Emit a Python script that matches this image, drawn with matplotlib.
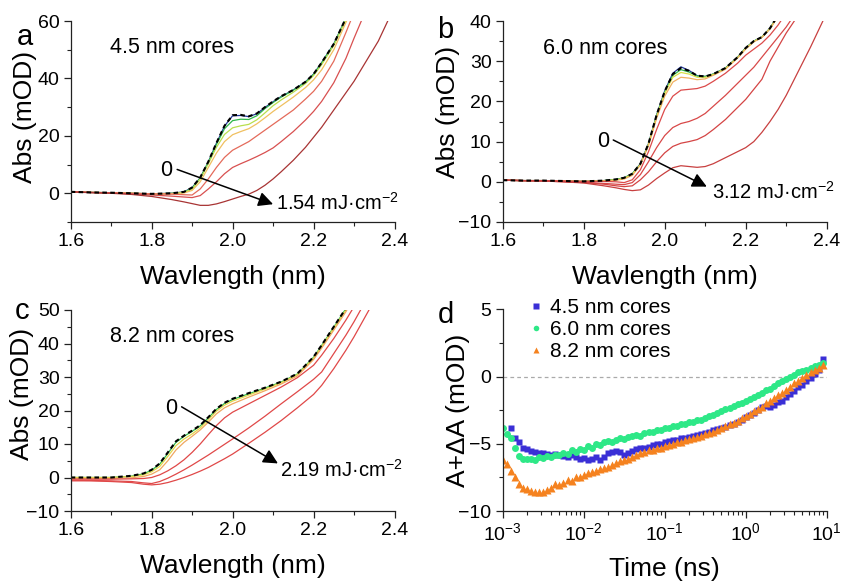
import numpy as np
import matplotlib
matplotlib.use("Agg")
import matplotlib.pyplot as plt
from matplotlib.ticker import MultipleLocator, LogLocator, NullFormatter

plt.rcParams['font.family'] = ['Liberation Sans', 'DejaVu Sans']
plt.rcParams['mathtext.fontset'] = 'custom'
plt.rcParams['mathtext.rm'] = 'Liberation Sans'
plt.rcParams['mathtext.it'] = 'Liberation Sans:italic'
plt.rcParams['mathtext.bf'] = 'Liberation Sans:bold'

# ---------------- Panel a (4.5 nm cores) ----------------
wl_a = [1.60, 1.65, 1.70, 1.75, 1.80, 1.85, 1.88, 1.90, 1.92, 1.94, 1.96, 1.98, 2.00, 2.02, 2.04,
        2.06, 2.08, 2.10, 2.12, 2.15, 2.18, 2.20, 2.22, 2.25, 2.28, 2.30, 2.33, 2.36, 2.40]
a_ref = [0.5, 0.3, 0.2, 0.0, -0.2, 0.0, 0.5, 2.0, 5.5, 11.0, 17.5, 23.5, 27.2, 27.3, 26.8,
         27.8, 30.0, 32.0, 33.8, 36.0, 38.8, 41.5, 45.5, 52.0, 61.0, 67.0, 76, 85, 97]
a_blue = [0.5, 0.3, 0.2, 0.0, -0.2, 0.0, 0.5, 2.0, 5.4, 10.9, 17.4, 23.4, 27.0, 27.1, 26.7,
          27.7, 29.9, 31.9, 33.7, 36.0, 38.8, 41.5, 45.5, 52.0, 61.0, 67.0, 76, 85, 97]
a_green = [0.5, 0.3, 0.2, 0.0, -0.2, 0.0, 0.4, 1.8, 5.3, 10.8, 17.0, 22.5, 25.3, 25.8, 25.7,
           27.0, 29.5, 31.6, 33.5, 35.9, 38.7, 41.4, 45.4, 51.9, 60.9, 67, 76, 85, 97]
a_ygreen = [0.5, 0.3, 0.2, 0.0, -0.2, -0.1, 0.3, 1.5, 5.0, 10.3, 16.0, 20.5, 22.8, 23.5, 24.0,
            25.6, 28.0, 30.5, 32.5, 35.2, 38.2, 41.0, 44.8, 51.5, 60.5, 67, 76, 85, 97]
a_orange = [0.5, 0.3, 0.2, 0.0, -0.2, -0.1, 0.1, 1.0, 4.0, 9.0, 14.0, 18.0, 20.4, 21.5, 22.5,
            24.2, 26.3, 28.5, 30.5, 33.5, 36.8, 39.5, 43.0, 50.0, 59.5, 66, 75, 84, 96]
a_red1 = [0.5, 0.3, 0.2, 0.0, -0.2, -0.3, -0.5, -0.6, 1.5, 5.0, 9.0, 12.5, 15.0, 16.5, 18.0,
          20.0, 22.0, 24.0, 26.0, 29.0, 32.8, 35.5, 39.0, 46.0, 56.0, 63.0, 73, 82, 94]
a_red2 = [0.5, 0.3, 0.1, -0.2, -0.6, -1.0, -1.3, -1.5, -0.8, 1.5, 4.0, 6.8, 9.0, 10.3, 11.5,
          12.8, 14.2, 15.8, 18.0, 21.5, 25.5, 28.5, 32.0, 38.5, 47.0, 54.0, 64.0, 74, 88]
a_dred = [0.5, 0.2, 0.0, -0.4, -1.1, -2.2, -3.0, -3.6, -4.2, -4.2, -3.7, -2.9, -2.0, -1.1, -0.3,
          1.0, 2.8, 5.0, 7.5, 11.5, 16.0, 19.5, 23.0, 29.0, 35.0, 39.0, 46.0, 53.0, 65.0]

# ---------------- Panel b (6.0 nm cores) ----------------
wl_b = [1.60, 1.65, 1.70, 1.75, 1.80, 1.85, 1.88, 1.90, 1.92, 1.94, 1.96, 1.98, 2.00, 2.02, 2.04,
        2.06, 2.08, 2.10, 2.12, 2.15, 2.18, 2.20, 2.22, 2.24, 2.26, 2.28, 2.30, 2.33, 2.36, 2.40]
b_ref = [0.4, 0.3, 0.3, 0.2, 0.1, 0.3, 0.6, 1.0, 2.0, 4.5, 9.5, 16.6, 22.5, 26.8, 28.3,
         27.6, 26.4, 26.2, 26.8, 28.3, 31.0, 33.3, 35.0, 36.0, 38.2, 41.5, 45, 50, 56, 64]
b_blue = [0.4, 0.3, 0.3, 0.2, 0.1, 0.3, 0.6, 1.0, 2.0, 4.5, 9.5, 16.6, 22.6, 27.0, 28.6,
          27.7, 26.4, 26.2, 26.8, 28.3, 31.0, 33.3, 35.0, 36.0, 38.2, 41.5, 45, 50, 56, 64]
b_green = [0.4, 0.3, 0.3, 0.2, 0.1, 0.3, 0.6, 1.0, 2.0, 4.4, 9.4, 16.5, 22.3, 26.5, 27.9,
           27.3, 26.3, 26.2, 26.8, 28.3, 31.0, 33.3, 35.0, 36.0, 38.2, 41.5, 45, 50, 56, 64]
b_yellow = [0.4, 0.3, 0.3, 0.2, 0.1, 0.3, 0.5, 0.9, 1.9, 4.3, 9.3, 16.3, 22.0, 26.0, 27.2,
            26.8, 26.0, 26.0, 26.7, 28.2, 30.9, 33.2, 34.9, 36.0, 38.1, 41.4, 45, 50, 56, 64]
b_orange = [0.4, 0.3, 0.3, 0.2, 0.1, 0.2, 0.4, 0.7, 1.6, 4.2, 9.0, 15.8, 21.3, 24.8, 26.0,
            25.8, 25.4, 25.6, 26.5, 28.0, 30.8, 33.0, 34.8, 35.9, 38.0, 41.2, 44.8, 50, 56, 64]
b_red1 = [0.4, 0.3, 0.3, 0.2, 0.1, 0.1, 0.0, -0.2, 0.5, 3.0, 7.5, 13.0, 18.0, 21.3, 22.8,
          23.0, 23.2, 23.8, 25.0, 27.0, 29.5, 31.5, 33.0, 34.5, 36.5, 39.0, 42.0, 47, 53, 61]
b_red2 = [0.4, 0.3, 0.2, 0.1, -0.1, -0.4, -0.6, -0.7, -0.2, 1.8, 5.0, 8.5, 11.5, 13.5, 14.5,
          15.0, 15.8, 17.0, 18.8, 21.5, 24.5, 26.5, 28.5, 31.0, 33.5, 36.0, 38.5, 43, 48, 55]
b_red3 = [0.4, 0.3, 0.2, 0.0, -0.2, -0.6, -1.0, -1.2, -1.0, 0.5, 2.5, 5.0, 7.2, 8.8, 9.6,
          10.0, 10.5, 11.5, 13.0, 15.5, 18.5, 20.5, 23.0, 25.5, 30.0, 33.5, 37.0, 41.5, 46, 52]
b_red4 = [0.4, 0.3, 0.2, 0.0, -0.3, -1.0, -1.5, -1.9, -2.2, -2.0, -0.8, 0.8, 2.2, 3.5, 4.0,
          3.8, 3.6, 3.8, 4.5, 6.0, 7.5, 8.5, 10.0, 12.3, 15.0, 18.0, 21.5, 27.5, 33.5, 42.0]

# ---------------- Panel c (8.2 nm cores) ----------------
wl_c = [1.60, 1.65, 1.70, 1.75, 1.78, 1.80, 1.82, 1.84, 1.86, 1.88, 1.90, 1.92, 1.94, 1.96,
        1.98, 2.00, 2.04, 2.08, 2.12, 2.16, 2.20, 2.22, 2.25, 2.28, 2.30, 2.33, 2.36, 2.40]
c_ref = [0.0, 0.0, 0.0, 0.5, 1.2, 2.3, 4.2, 7.5, 10.8, 12.5, 14.0, 15.6, 18.0, 20.5,
         22.3, 23.5, 25.2, 26.8, 28.6, 31.0, 36.0, 39.5, 45.0, 50.5, 55, 62, 70, 80]
c_green = [0.0, 0.0, 0.0, 0.4, 1.1, 2.2, 4.0, 7.2, 10.5, 12.3, 13.8, 15.4, 17.8, 20.3,
           22.1, 23.3, 25.0, 26.7, 28.5, 30.9, 35.9, 39.4, 44.9, 50.4, 55, 62, 70, 80]
c_yellow = [0.0, 0.0, 0.0, 0.3, 0.8, 1.7, 3.3, 6.3, 9.5, 11.5, 13.0, 14.8, 17.2, 19.8,
            21.6, 22.8, 24.6, 26.4, 28.3, 30.7, 35.6, 39.1, 44.6, 50.0, 54.5, 61.5, 69.5, 79.5]
c_orange = [-0.3, -0.3, -0.3, -0.1, 0.3, 1.0, 2.3, 5.0, 8.2, 10.5, 12.3, 14.2, 16.5, 19.0,
            20.8, 22.0, 24.0, 25.9, 27.9, 30.3, 35.2, 38.6, 44.0, 49.5, 54, 61, 69, 79]
c_red1 = [-0.5, -0.5, -0.5, -0.4, -0.3, 0.0, 0.8, 2.0, 3.5, 5.3, 7.5, 10.0, 12.8, 15.5,
          17.8, 19.5, 22.0, 24.5, 27.0, 29.8, 33.5, 36.5, 41.5, 47.0, 51, 58, 66, 77]
c_red2 = [-0.8, -0.9, -1.0, -1.2, -1.6, -1.8, -1.2, -0.2, 1.0, 2.3, 3.7, 5.2, 6.7, 8.3,
          9.9, 11.5, 14.8, 18.3, 22.0, 25.6, 29.3, 31.5, 37.0, 42.5, 46.5, 53, 60, 70]
c_red3 = [-1.0, -1.0, -1.2, -1.5, -2.0, -2.2, -2.0, -1.5, -0.8, 0.0, 0.9, 1.9, 3.0, 4.3,
          5.6, 7.0, 10.2, 13.5, 17.0, 20.8, 24.8, 27.5, 32.5, 38.0, 42.0, 48.5, 55, 65]

# ---------------- Panel d (kinetics) ----------------
log_time = [-3.00, -2.95, -2.90, -2.85, -2.80, -2.75, -2.70, -2.65, -2.60, -2.55,
            -2.50, -2.45, -2.40, -2.35, -2.30, -2.25, -2.20, -2.15, -2.10, -2.05,
            -2.00, -1.95, -1.90, -1.85, -1.80, -1.75, -1.70, -1.65, -1.60, -1.55,
            -1.50, -1.45, -1.40, -1.35, -1.30, -1.25, -1.20, -1.15, -1.10, -1.05,
            -1.00, -0.95, -0.90, -0.85, -0.80, -0.75, -0.70, -0.65, -0.60, -0.55,
            -0.50, -0.45, -0.40, -0.35, -0.30, -0.25, -0.20, -0.15, -0.10, -0.05,
            0.00, 0.05, 0.10, 0.15, 0.20, 0.25, 0.30, 0.35, 0.40, 0.45,
            0.50, 0.55, 0.60, 0.65, 0.70, 0.75, 0.80, 0.85, 0.90, 0.95]
d_45 = [np.nan, np.nan, -3.85, -4.6, -4.9, -5.3, -5.4, -5.55, -5.6, -5.7,
        -5.65, -5.75, -5.8, -5.75, -5.85, -5.9, -5.95, -5.85, -6.0, -6.1,
        -6.05, -6.2, -6.1, -6.0, -6.2, -5.95, -5.7, -5.6, -5.55, -5.6,
        -5.8, -5.7, -5.55, -5.4, -5.35, -5.3, -5.25, -5.1, -5.05, -5.0,
        -4.9, -4.8, -4.75, -4.7, -4.6, -4.55, -4.5, -4.4, -4.35, -4.3,
        -4.2, -4.1, -4.0, -3.9, -3.85, -3.75, -3.6, -3.5, -3.35, -3.2,
        -3.0, -2.85, -2.7, -2.5, -2.3, -2.2, -2.3, -2.1, -1.9, -1.8,
        -1.5, -1.3, -1.1, -0.8, -0.6, -0.35, -0.1, 0.2, 0.5, 1.3]
d_60 = [-3.85, -4.3, -4.6, -5.3, -5.9, -6.1, -6.15, -6.1, -6.2, -6.0,
        -6.05, -5.9, -6.0, -5.8, -5.85, -5.7, -5.75, -5.5, -5.6, -5.4,
        -5.45, -5.2, -5.3, -5.05, -5.1, -4.9, -4.8, -4.85, -4.7, -4.6,
        -4.65, -4.5, -4.45, -4.35, -4.4, -4.2, -4.15, -4.1, -4.0, -3.95,
        -3.85, -3.8, -3.7, -3.65, -3.55, -3.5, -3.4, -3.35, -3.25, -3.2,
        -3.05, -2.95, -2.85, -2.7, -2.6, -2.45, -2.35, -2.2, -2.05, -1.95,
        -1.8, -1.65, -1.5, -1.35, -1.2, -1.0, -0.9, -0.7, -0.5, -0.35,
        -0.15, 0.0, 0.15, 0.3, 0.4, 0.5, 0.6, 0.75, 0.85, 1.0]
d_82 = [-6.2, -6.5, -7.0, -7.5, -8.0, -8.3, -8.4, -8.5, -8.6, -8.55,
        -8.6, -8.45, -8.3, -8.0, -8.1, -7.9, -7.7, -7.75, -7.5, -7.45,
        -7.3, -7.2, -7.1, -7.0, -6.85, -6.8, -6.7, -6.55, -6.45, -6.3,
        -6.2, -6.1, -5.95, -5.85, -5.7, -5.6, -5.5, -5.45, -5.35, -5.3,
        -5.2, -5.1, -5.0, -4.9, -4.85, -4.75, -4.65, -4.6, -4.5, -4.45,
        -4.3, -4.2, -4.1, -3.95, -3.85, -3.7, -3.55, -3.45, -3.3, -3.1,
        -2.95, -2.8, -2.6, -2.4, -2.25, -2.0, -1.8, -1.6, -1.4, -1.2,
        -1.0, -0.75, -0.5, -0.3, -0.1, 0.1, 0.3, 0.5, 0.65, 0.85]
d_labels = ['4.5 nm cores', '6.0 nm cores', '8.2 nm cores']

# colours for spectra (increasing fluence)
col_ref = 'black'
cols_a = ['#22389a', '#2fb84c', '#b9df4e', '#f0c060', '#e46a5a', '#d85050', '#a83434']
cols_b = ['#22389a', '#2fb84c', '#d9e04a', '#f0b060', '#dc4a4a', '#d84848', '#d44444', '#c84040']
cols_c = ['#2fb84c', '#e4d84a', '#f0a860', '#e04848', '#e04848', '#e04848']

fig = plt.figure(figsize=(8.44, 5.82), dpi=100)
W, H = 844.0, 582.0
ax_a = fig.add_axes([70.7 / W, 1 - 222 / H, 323.8 / W, 201 / H])
ax_b = fig.add_axes([502.7 / W, 1 - 222 / H, 324 / W, 201 / H])
ax_c = fig.add_axes([70.7 / W, 1 - 511 / H, 323.8 / W, 201 / H])
ax_d = fig.add_axes([502.7 / W, 1 - 511 / H, 324 / W, 201.7 / H])

LW = 0.9
dash = (0, (2.2, 1.6))


def style(ax):
    for s in ['top', 'right']:
        ax.spines[s].set_visible(False)
    for s in ['left', 'bottom']:
        ax.spines[s].set_linewidth(0.9)
        ax.spines[s].set_color('#222222')
    ax.tick_params(which='major', direction='out', length=5, width=0.9, labelsize=14,
                   pad=3, color='#222222')
    ax.tick_params(which='minor', direction='out', length=3, width=0.8, color='#222222')


# ---- a ----
for ys, c in zip([a_blue, a_green, a_ygreen, a_orange, a_red1, a_red2, a_dred], cols_a):
    ax_a.plot(wl_a, ys, color=c, lw=LW)
ax_a.plot(wl_a, a_ref, color=col_ref, lw=1.5, ls=dash)
ax_a.set_xlim(1.6, 2.4)
ax_a.set_ylim(-10, 60)
ax_a.set_yticks([0, 20, 40, 60])
ax_a.yaxis.set_minor_locator(MultipleLocator(10))

# ---- b ----
for ys, c in zip([b_blue, b_green, b_yellow, b_orange, b_red1, b_red2, b_red3, b_red4], cols_b):
    ax_b.plot(wl_b, ys, color=c, lw=LW)
ax_b.plot(wl_b, b_ref, color=col_ref, lw=1.5, ls=dash)
ax_b.set_xlim(1.6, 2.4)
ax_b.set_ylim(-10, 40)
ax_b.set_yticks([-10, 0, 10, 20, 30, 40])
ax_b.yaxis.set_minor_locator(MultipleLocator(5))

# ---- c ----
for ys, c in zip([c_green, c_yellow, c_orange, c_red1, c_red2, c_red3], cols_c):
    ax_c.plot(wl_c, ys, color=c, lw=LW)
ax_c.plot(wl_c, c_ref, color=col_ref, lw=1.5, ls=dash)
ax_c.set_xlim(1.6, 2.4)
ax_c.set_ylim(-10, 50)
ax_c.set_yticks([-10, 0, 10, 20, 30, 40, 50])
ax_c.yaxis.set_minor_locator(MultipleLocator(5))

for ax in (ax_a, ax_b, ax_c):
    style(ax)
    ax.set_xticks([1.6, 1.8, 2.0, 2.2, 2.4])
    ax.set_xticklabels(['1.6', '1.8', '2.0', '2.2', '2.4'])
    ax.xaxis.set_minor_locator(MultipleLocator(0.1))
    ax.set_xlabel('Wavlength (nm)', fontsize=19, labelpad=11)

# ylabels
ax_a.set_ylabel('Abs (mOD)', fontsize=19, va='center')
ax_a.yaxis.set_label_coords(-0.141, 0.525)
ax_b.set_ylabel('Abs (mOD)', fontsize=19, va='center')
ax_b.yaxis.set_label_coords(-0.169, 0.55)
ax_c.set_ylabel('Abs (mOD)', fontsize=19, va='center')
ax_c.yaxis.set_label_coords(-0.150, 0.58)

# annotations
tfs = 15.5
ax_a.text(0.121, 0.866, '4.5 nm cores', transform=ax_a.transAxes, fontsize=tfs, va='center')
ax_b.text(0.125, 0.863, '6.0 nm cores', transform=ax_b.transAxes, fontsize=tfs, va='center')
ax_c.text(0.121, 0.868, '8.2 nm cores', transform=ax_c.transAxes, fontsize=tfs, va='center')

lfs = 14.5
arrow = dict(arrowstyle='-|>', color='black', lw=1.1, mutation_scale=22, shrinkA=0, shrinkB=0)
ax_a.annotate('', xy=(2.10, -3.8), xytext=(1.863, 8.3), arrowprops=arrow)
ax_a.text(1.852, 8.0, '0', fontsize=tfs, ha='right', va='center')
ax_a.text(2.106, -3.4, '1.54 mJ·cm$^{-2}$', fontsize=lfs, ha='left', va='center')

ax_b.annotate('', xy=(2.104, -1.2), xytext=(1.873, 10.4), arrowprops=arrow)
ax_b.text(1.862, 10.0, '0', fontsize=tfs, ha='right', va='center')
ax_b.text(2.118, -2.5, '3.12 mJ·cm$^{-2}$', fontsize=lfs, ha='left', va='center')

ax_c.annotate('', xy=(2.112, 4.2), xytext=(1.874, 21.1), arrowprops=arrow)
ax_c.text(1.864, 20.7, '0', fontsize=tfs, ha='right', va='center')
ax_c.text(2.116, 2.2, '2.19 mJ·cm$^{-2}$', fontsize=lfs, ha='left', va='center')

# ---- d ----
t = 10 ** np.array(log_time)
ax_d.axhline(0, color='#aaaaaa', lw=0.9, ls=(0, (3, 2.5)), zorder=1)
ax_d.plot(t, d_45, ls='none', marker='s', ms=4.6, color='#3a2fd6', mec='none', label=d_labels[0])
ax_d.plot(t, d_60, ls='none', marker='o', ms=5.0, color='#2ee887', mec='none', label=d_labels[1])
ax_d.plot(t, d_82, ls='none', marker='^', ms=5.4, color='#f5821f', mec='none', label=d_labels[2])
ax_d.set_xscale('log')
ax_d.set_xlim(1e-3, 1e1)
ax_d.set_ylim(-10, 5)
ax_d.set_yticks([-10, -5, 0, 5])
ax_d.yaxis.set_minor_locator(MultipleLocator(2.5))
ax_d.xaxis.set_major_locator(LogLocator(base=10, numticks=10))
ax_d.xaxis.set_minor_locator(LogLocator(base=10, subs=np.arange(2, 10), numticks=20))
ax_d.xaxis.set_minor_formatter(NullFormatter())
style(ax_d)
ax_d.set_xlabel('Time (ns)', fontsize=19, labelpad=9)
ax_d.set_ylabel('A+ΔA (mOD)', fontsize=19, va='center')
ax_d.yaxis.set_label_coords(-0.138, 0.5)
ax_d.legend(loc='upper left', bbox_to_anchor=(0.08, 1.055), frameon=False, fontsize=15,
            handletextpad=0.3, handlelength=0.75, labelspacing=0.15, borderpad=0,
            borderaxespad=0, markerscale=0.8)

# panel letters
fig.text(25 / W, 1 - 37 / H, 'a', fontsize=21, ha='center', va='center')
fig.text(445 / W, 1 - 30 / H, 'b', fontsize=21, ha='center', va='center')
fig.text(22 / W, 1 - 311 / H, 'c', fontsize=21, ha='center', va='center')
fig.text(446 / W, 1 - 315 / H, 'd', fontsize=21, ha='center', va='center')

fig.savefig('out.png', dpi=100)
